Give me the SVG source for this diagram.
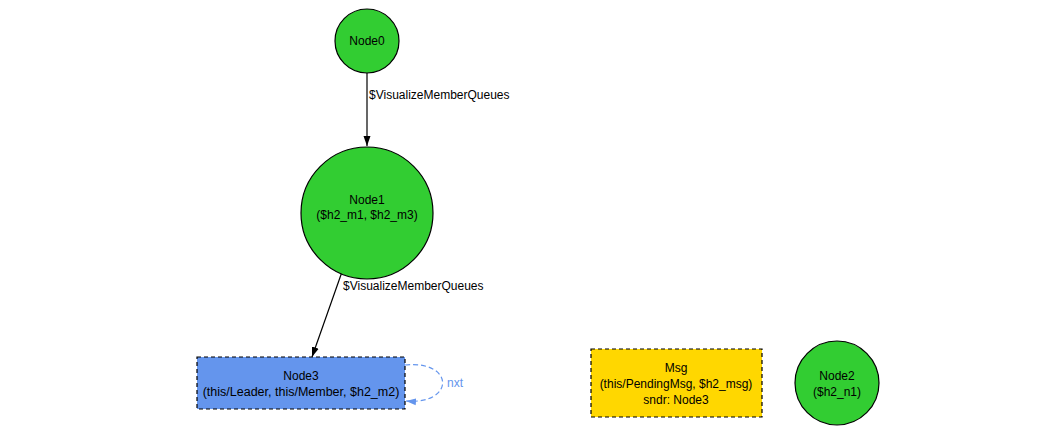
<svg xmlns="http://www.w3.org/2000/svg" width="1050" height="434" viewBox="0 0 1050 434">
  <style>
    text { font-family: "Liberation Sans", Arial, sans-serif; font-size: 12px; fill: #000; }
    .c { text-anchor: middle; }
    .green { fill: #32cd32; stroke: #000; stroke-width: 1.2; }
    .box { stroke: #000; stroke-width: 1.2; stroke-dasharray: 4 3; }
    .edge { fill: none; stroke: #000; stroke-width: 1.2; }
    .loop { fill: none; stroke: #6495ed; stroke-width: 1.2; stroke-dasharray: 5 3; }
  </style>
  <defs>
    <marker id="arrow" viewBox="0 0 10 10" refX="10" refY="5" markerWidth="10" markerHeight="10" markerUnits="userSpaceOnUse" orient="auto">
      <path d="M0,1.5 L10,5 L0,8.5 z" fill="#000"/>
    </marker>
    <marker id="arrowBlue" viewBox="0 0 10 10" refX="10" refY="5" markerWidth="10" markerHeight="10" markerUnits="userSpaceOnUse" orient="auto">
      <path d="M0,1.5 L10,5 L0,8.5 z" fill="#6495ed"/>
    </marker>
  </defs>
  <rect width="1050" height="434" fill="#fff"/>

  <g id="connectors">
    <line class="edge" x1="367" y1="73" x2="367" y2="146" marker-end="url(#arrow)"/>
    <text x="369" y="99">$VisualizeMemberQueues</text>
    <line class="edge" x1="343" y1="269" x2="312" y2="357" marker-end="url(#arrow)"/>
    <text x="343" y="290">$VisualizeMemberQueues</text>
    <path class="loop" d="M405,365 C455,360 455,405 406,401" marker-end="url(#arrowBlue)"/>
    <text x="447" y="387" style="fill:#6495ed">nxt</text>
  </g>

  <g id="node0">
    <circle class="green" cx="367" cy="41" r="32"/>
    <text class="c" x="367" y="45">Node0</text>
  </g>

  <g id="node1">
    <circle class="green" cx="367" cy="213" r="66"/>
    <text class="c" x="367" y="204">Node1</text>
    <text class="c" x="367" y="219">($h2_m1, $h2_m3)</text>
  </g>

  <g id="node3">
    <rect class="box" x="197" y="357" width="208" height="52" fill="#6495ed"/>
    <text class="c" x="301" y="380">Node3</text>
    <text class="c" x="301" y="396" style="font-size:12.5px">(this/Leader, this/Member, $h2_m2)</text>
  </g>

  <g id="msg">
    <rect class="box" x="591" y="349" width="171" height="68" fill="#ffd700"/>
    <text class="c" x="676" y="372">Msg</text>
    <text class="c" x="676" y="388">(this/PendingMsg, $h2_msg)</text>
    <text class="c" x="676" y="404">sndr: Node3</text>
  </g>

  <g id="node2">
    <circle class="green" cx="837" cy="383" r="42"/>
    <text class="c" x="837" y="380">Node2</text>
    <text class="c" x="837" y="396">($h2_n1)</text>
  </g>
</svg>
